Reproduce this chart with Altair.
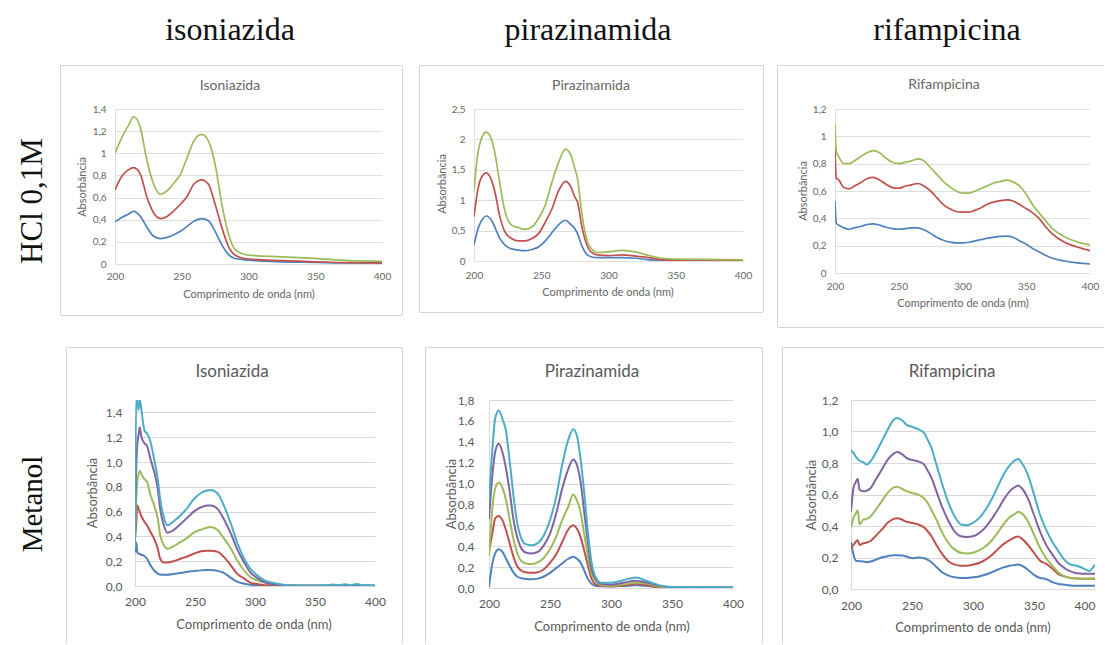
import altair as alt
import pandas as pd

SERIES = ["blue", "red", "green", "purple", "aqua"]
COLORS = ["#4F81BD", "#C0504D", "#9BBB59", "#8064A2", "#4BACC6"]

COL_HEADERS = ["isoniazida", "pirazinamida", "rifampicina"]
ROW_HEADERS = ["HCl 0,1M", "Metanol"]
PANEL_TITLES = ["Isoniazida", "Pirazinamida", "Rifampicina"]
X_TITLE = "Comprimento de onda (nm)"
Y_TITLE = "Absorbância"
X_TICKS = [200, 250, 300, 350, 400]

# ---------------- HCl 0,1M : Isoniazida ----------------
HCL_ISO_WL = [200, 205, 210, 214, 219, 224, 229, 234, 239, 244, 249, 254, 259, 265, 270, 275,
              280, 285, 290, 300, 325, 350, 375, 400]
HCL_ISO_BLUE = [0.38, 0.42, 0.45, 0.475, 0.43, 0.33, 0.25, 0.23, 0.24, 0.265, 0.295, 0.34, 0.385,
                0.41, 0.39, 0.295, 0.175, 0.085, 0.05, 0.035, 0.02, 0.015, 0.01, 0.01]
HCL_ISO_RED = [0.67, 0.79, 0.85, 0.87, 0.81, 0.60, 0.46, 0.41, 0.43, 0.48, 0.54, 0.61, 0.72,
               0.76, 0.72, 0.54, 0.33, 0.16, 0.08, 0.045, 0.03, 0.02, 0.012, 0.01]
HCL_ISO_GREEN = [1.0, 1.14, 1.25, 1.33, 1.23, 0.93, 0.72, 0.63, 0.66, 0.73, 0.81, 0.96, 1.11,
                 1.17, 1.11, 0.90, 0.54, 0.27, 0.13, 0.08, 0.065, 0.05, 0.03, 0.025]

# ---------------- HCl 0,1M : Pirazinamida ----------------
HCL_PZA_WL = [200, 203, 205, 209, 213, 216, 219, 223, 228, 233, 238, 243, 248, 253, 258, 263,
              268, 272, 275, 277, 280, 283, 287, 292, 300, 310, 320, 330, 340, 350, 400]
HCL_PZA_BLUE = [0.26, 0.53, 0.64, 0.74, 0.67, 0.53, 0.38, 0.26, 0.20, 0.18, 0.17, 0.19, 0.23,
                0.33, 0.47, 0.60, 0.67, 0.60, 0.53, 0.45, 0.26, 0.13, 0.07, 0.055, 0.055, 0.055,
                0.045, 0.02, 0.01, 0.01, 0.005]
HCL_PZA_RED = [0.73, 1.19, 1.35, 1.45, 1.33, 1.09, 0.75, 0.48, 0.37, 0.33, 0.33, 0.37, 0.45,
               0.64, 0.86, 1.16, 1.31, 1.22, 1.05, 0.97, 0.59, 0.32, 0.15, 0.10, 0.09, 0.10,
               0.08, 0.055, 0.02, 0.015, 0.01]
HCL_PZA_GREEN = [1.16, 1.79, 1.98, 2.12, 2.0, 1.72, 1.30, 0.82, 0.59, 0.55, 0.52, 0.56, 0.70,
                 0.92, 1.30, 1.63, 1.84, 1.74, 1.52, 1.35, 0.81, 0.43, 0.21, 0.14, 0.15, 0.175,
                 0.15, 0.09, 0.045, 0.03, 0.02]

# ---------------- HCl 0,1M : Rifampicina ----------------
HCL_RIF_WL = [200, 201, 203, 207, 211, 215, 220, 225, 230, 235, 240, 245, 250, 255, 260, 265,
              270, 275, 280, 285, 290, 295, 300, 305, 310, 315, 320, 325, 330, 335, 340, 345,
              350, 355, 360, 365, 370, 380, 390, 400]
HCL_RIF_BLUE = [0.525, 0.365, 0.35, 0.33, 0.32, 0.33, 0.34, 0.355, 0.36, 0.35, 0.335, 0.325,
                0.32, 0.325, 0.33, 0.33, 0.315, 0.29, 0.26, 0.24, 0.227, 0.22, 0.22, 0.225,
                0.235, 0.245, 0.255, 0.263, 0.268, 0.27, 0.26, 0.235, 0.21, 0.18, 0.155, 0.13,
                0.11, 0.088, 0.074, 0.066]
HCL_RIF_RED = [0.915, 0.695, 0.68, 0.625, 0.615, 0.635, 0.66, 0.69, 0.70, 0.68, 0.65, 0.625,
               0.62, 0.635, 0.645, 0.655, 0.635, 0.60, 0.55, 0.50, 0.47, 0.45, 0.445, 0.446,
               0.46, 0.48, 0.505, 0.52, 0.53, 0.535, 0.525, 0.50, 0.47, 0.44, 0.40, 0.34,
               0.29, 0.225, 0.19, 0.163]
HCL_RIF_GREEN = [1.085, 0.89, 0.85, 0.80, 0.80, 0.82, 0.85, 0.88, 0.895, 0.88, 0.84, 0.81,
                 0.80, 0.81, 0.82, 0.835, 0.82, 0.77, 0.72, 0.67, 0.63, 0.60, 0.585, 0.585,
                 0.60, 0.62, 0.64, 0.66, 0.67, 0.68, 0.665, 0.635, 0.575, 0.50, 0.44, 0.385,
                 0.33, 0.265, 0.228, 0.205]

# ---------------- Metanol : Isoniazida ----------------
MEOH_ISO_WL = [200, 201, 202, 203, 204, 205, 206, 208, 210, 213, 216, 219, 221, 224, 227, 232,
               238, 244, 249, 255, 260, 263, 269, 274, 280, 285, 291, 296, 302, 308, 319, 330,
               350, 360, 365, 370, 375, 380, 385, 390, 400]
MEOH_ISO_BLUE = [0.27, 0.35, 0.27, 0.26, 0.26, 0.25, 0.25, 0.24, 0.22, 0.165, 0.125, 0.10, 0.092,
                 0.09, 0.09, 0.097, 0.105, 0.115, 0.12, 0.126, 0.13, 0.13, 0.122, 0.105, 0.065,
                 0.035, 0.018, 0.01, 0.006, 0.004, 0.003, 0.002, 0.002, 0.002, 0.002, 0.002,
                 0.002, 0.002, 0.002, 0.002, 0.002]
MEOH_ISO_RED = [0.38, 0.5, 0.65, 0.62, 0.6, 0.57, 0.55, 0.515, 0.49, 0.435, 0.38, 0.30, 0.22,
                0.19, 0.19, 0.2, 0.22, 0.24, 0.26, 0.28, 0.285, 0.285, 0.275, 0.235, 0.165, 0.10,
                0.06, 0.027, 0.016, 0.005, 0.003, 0.002, 0.002, 0.002, 0.002, 0.002, 0.002,
                0.002, 0.002, 0.002, 0.002]
MEOH_ISO_GREEN = [0.4, 0.7, 0.85, 0.9, 0.93, 0.91, 0.89, 0.86, 0.84, 0.73, 0.65, 0.54, 0.41,
                  0.33, 0.30, 0.32, 0.355, 0.39, 0.43, 0.455, 0.47, 0.475, 0.45, 0.385, 0.30,
                  0.21, 0.125, 0.072, 0.045, 0.027, 0.01, 0.004, 0.003, 0.003, 0.003, 0.003,
                  0.003, 0.003, 0.003, 0.003, 0.003]
MEOH_ISO_PURPLE = [0.55, 0.95, 1.15, 1.22, 1.28, 1.22, 1.185, 1.15, 1.13, 1.02, 0.92, 0.78, 0.62,
                   0.49, 0.43, 0.45, 0.50, 0.555, 0.60, 0.635, 0.65, 0.65, 0.62, 0.54, 0.42,
                   0.30, 0.19, 0.11, 0.064, 0.03, 0.01, 0.005, 0.003, 0.003, 0.003, 0.003,
                   0.003, 0.003, 0.003, 0.003, 0.003]
MEOH_ISO_AQUA = [0.3, 1.5, 1.5, 1.42, 1.5, 1.45, 1.37, 1.25, 1.23, 1.16, 1.02, 0.86, 0.70, 0.555,
                 0.49, 0.52, 0.57, 0.635, 0.70, 0.75, 0.77, 0.775, 0.745, 0.65, 0.50, 0.355,
                 0.22, 0.14, 0.086, 0.045, 0.019, 0.005, 0.003, 0.006, 0.012, 0.005, 0.014,
                 0.007, 0.016, 0.006, 0.005]

# ---------------- Metanol : Pirazinamida ----------------
MEOH_PZA_WL = [200, 203, 205, 208, 211, 214, 217, 220, 223, 226, 230, 235, 240, 245, 250, 255,
               260, 265, 269, 272, 275, 278, 281, 284, 288, 292, 300, 310, 320, 330, 340, 350, 400]
MEOH_PZA_BLUE = [0.01, 0.25, 0.33, 0.37, 0.345, 0.28, 0.21, 0.15, 0.11, 0.095, 0.087, 0.083,
                 0.09, 0.11, 0.145, 0.19, 0.235, 0.28, 0.30, 0.28, 0.245, 0.17, 0.09, 0.04, 0.02,
                 0.016, 0.016, 0.02, 0.026, 0.02, 0.006, 0.003, 0.002]
MEOH_PZA_RED = [0.35, 0.54, 0.665, 0.69, 0.65, 0.55, 0.425, 0.30, 0.21, 0.17, 0.15, 0.145, 0.15,
                0.18, 0.24, 0.32, 0.44, 0.56, 0.60, 0.57, 0.49, 0.36, 0.22, 0.09, 0.032, 0.018,
                0.015, 0.025, 0.04, 0.026, 0.006, 0.003, 0.002]
MEOH_PZA_GREEN = [0.31, 0.79, 0.95, 1.01, 0.96, 0.84, 0.65, 0.47, 0.34, 0.265, 0.235, 0.23,
                  0.245, 0.29, 0.37, 0.49, 0.65, 0.78, 0.895, 0.84, 0.73, 0.52, 0.31, 0.14, 0.06,
                  0.026, 0.02, 0.035, 0.05, 0.04, 0.013, 0.005, 0.003]
MEOH_PZA_PURPLE = [0.66, 1.11, 1.30, 1.38, 1.30, 1.14, 0.92, 0.66, 0.49, 0.39, 0.34, 0.33, 0.345,
                   0.41, 0.52, 0.71, 0.95, 1.14, 1.23, 1.18, 1.02, 0.73, 0.44, 0.185, 0.075, 0.04,
                   0.032, 0.05, 0.07, 0.05, 0.02, 0.008, 0.004]
MEOH_PZA_AQUA = [0.825, 1.37, 1.62, 1.70, 1.62, 1.50, 1.21, 0.89, 0.63, 0.49, 0.42, 0.41, 0.43,
                 0.505, 0.65, 0.87, 1.18, 1.42, 1.52, 1.46, 1.24, 0.92, 0.54, 0.25, 0.09, 0.05,
                 0.05, 0.075, 0.10, 0.065, 0.025, 0.01, 0.005]

# ---------------- Metanol : Rifampicina ----------------
MEOH_RIF_WL = [200, 202, 204, 205.5, 207, 210, 213, 216, 220, 225, 230, 235, 238, 242, 246, 250,
               255, 260, 263, 266, 270, 275, 280, 285, 290, 295, 300, 305, 310, 315, 320, 325,
               330, 335, 337, 340, 345, 350, 355, 360, 365, 370, 375, 380, 385, 390, 395, 400]
MEOH_RIF_BLUE = [0.30, 0.22, 0.18, 0.178, 0.176, 0.175, 0.17, 0.175, 0.185, 0.20, 0.208, 0.215,
                 0.215, 0.212, 0.205, 0.195, 0.2, 0.195, 0.185, 0.17, 0.14, 0.105, 0.085, 0.074,
                 0.07, 0.07, 0.074, 0.08, 0.09, 0.105, 0.122, 0.137, 0.148, 0.153, 0.155, 0.148,
                 0.122, 0.09, 0.07, 0.063, 0.044, 0.032, 0.027, 0.023, 0.021, 0.02, 0.02, 0.02]
MEOH_RIF_RED = [0.26, 0.28, 0.30, 0.31, 0.28, 0.29, 0.295, 0.305, 0.335, 0.375, 0.42, 0.445,
                0.45, 0.44, 0.425, 0.42, 0.41, 0.39, 0.365, 0.335, 0.28, 0.22, 0.175, 0.155,
                0.148, 0.148, 0.155, 0.165, 0.185, 0.213, 0.25, 0.285, 0.31, 0.33, 0.334, 0.32,
                0.28, 0.23, 0.18, 0.16, 0.13, 0.095, 0.08, 0.07, 0.067, 0.065, 0.065, 0.065]
MEOH_RIF_GREEN = [0.39, 0.45, 0.48, 0.50, 0.41, 0.44, 0.445, 0.46, 0.50, 0.555, 0.61, 0.645,
                  0.65, 0.635, 0.62, 0.61, 0.60, 0.575, 0.545, 0.50, 0.44, 0.355, 0.29, 0.25,
                  0.23, 0.225, 0.23, 0.245, 0.27, 0.305, 0.355, 0.41, 0.455, 0.48, 0.49, 0.48,
                  0.43, 0.345, 0.26, 0.195, 0.148, 0.105, 0.08, 0.07, 0.067, 0.065, 0.066, 0.07]
MEOH_RIF_PURPLE = [0.49, 0.64, 0.68, 0.70, 0.63, 0.62, 0.625, 0.64, 0.69, 0.755, 0.82, 0.86,
                   0.87, 0.855, 0.83, 0.82, 0.81, 0.79, 0.75, 0.705, 0.62, 0.515, 0.43, 0.365,
                   0.335, 0.33, 0.335, 0.355, 0.39, 0.44, 0.50, 0.565, 0.62, 0.65, 0.657, 0.64,
                   0.575, 0.47, 0.365, 0.28, 0.22, 0.165, 0.133, 0.112, 0.10, 0.097, 0.097, 0.097]
MEOH_RIF_AQUA = [0.88, 0.865, 0.84, 0.825, 0.815, 0.805, 0.79, 0.81, 0.86, 0.935, 1.01, 1.075,
                 1.085, 1.07, 1.04, 1.03, 1.015, 0.99, 0.945, 0.895, 0.79, 0.66, 0.545, 0.46,
                 0.41, 0.405, 0.42, 0.45, 0.50, 0.565, 0.645, 0.725, 0.785, 0.82, 0.825, 0.80,
                 0.725, 0.60, 0.47, 0.375, 0.30, 0.24, 0.185, 0.155, 0.148, 0.133, 0.115, 0.155]

# Y axis tick values per panel
YT_HCL_ISO = [0, 0.2, 0.4, 0.6, 0.8, 1.0, 1.2, 1.4]
YT_HCL_PZA = [0, 0.5, 1.0, 1.5, 2.0, 2.5]
YT_HCL_RIF = [0, 0.2, 0.4, 0.6, 0.8, 1.0, 1.2]
YT_MEOH_ISO = [0, 0.2, 0.4, 0.6, 0.8, 1.0, 1.2, 1.4]
YT_MEOH_PZA = [0, 0.2, 0.4, 0.6, 0.8, 1.0, 1.2, 1.4, 1.6, 1.8]
YT_MEOH_RIF = [0, 0.2, 0.4, 0.6, 0.8, 1.0, 1.2]

ONE = pd.DataFrame({"k": [0]})
FONT = "Lato"
SERIF = "Liberation Serif"
BORDER = "#D6D6D6"


def table(wl, series):
    rows = []
    for name in SERIES:
        vals = series.get(name)
        if vals is None:
            continue
        for w, v in zip(wl, vals):
            rows.append({"wl": w, "a": v, "s": name})
    return pd.DataFrame(rows)


def text_at(text, x, y, size, color, font=FONT, angle=0, baseline="middle"):
    return alt.Chart(ONE).mark_text(
        text=text, font=font, fontSize=size, color=color, angle=angle,
        align="center", baseline=baseline
    ).encode(x=alt.value(x), y=alt.value(y))


def rule_at(x1, y1, x2, y2):
    return alt.Chart(ONE).mark_rule(color=BORDER, strokeWidth=1).encode(
        x=alt.value(x1), y=alt.value(y1), x2=alt.value(x2), y2=alt.value(y2))


def panel(df, g):
    ox, oy, w, h = g["plot"]
    X = lambda v: v - ox
    Y = lambda v: v - oy
    row1 = g["row"] == 1
    txt = "#666666" if row1 else "#595959"
    grid = "#DEDEDE" if row1 else "#D9D9D9"
    tick_fs = 10 if row1 else 12
    axt_fs = 11 if row1 else 13
    title_fs = 14 if row1 else 17
    lw = 1.7 if row1 else 2.0

    layers = []
    cx1, cy1, cx2, cy2 = g["cell"]
    layers.append(alt.Chart(ONE).mark_rect(opacity=0).encode(
        x=alt.value(X(cx1)), x2=alt.value(X(cx2)), y=alt.value(Y(cy1)), y2=alt.value(Y(cy2))))

    bx1, by1, bx2, by2 = g["box"]
    right = bx2 if bx2 is not None else 1104
    bottom = by2 if by2 is not None else 644
    layers.append(rule_at(X(bx1 + 0.5), Y(by1 + 0.5), X(right), Y(by1 + 0.5)))
    layers.append(rule_at(X(bx1 + 0.5), Y(by1 + 0.5), X(bx1 + 0.5), Y(bottom)))
    if by2 is not None:
        layers.append(rule_at(X(bx1 + 0.5), Y(by2 + 0.5), X(right), Y(by2 + 0.5)))
    if bx2 is not None:
        layers.append(rule_at(X(bx2 + 0.5), Y(by1 + 0.5), X(bx2 + 0.5), Y(bottom)))

    if row1:
        lx = "replace(format(datum.value, '~g'), '.', ',')"
    else:
        lx = "replace(format(datum.value, '.1f'), '.', ',')"

    label_align = "center"
    if g.get("flush_last"):
        label_align = {"condition": {"test": "datum.value == 400", "value": "right"}, "value": "center"}

    xaxis = alt.Axis(values=X_TICKS, title=None, grid=False, ticks=False, tickSize=0,
                     domain=True, domainColor=grid, labelFont=FONT, labelFontSize=tick_fs,
                     labelColor=txt, labelPadding=g["xpad"], labelFlush=False,
                     labelAlign=label_align, format="d")
    yaxis = alt.Axis(values=g["yticks"], title=None, grid=True, gridColor=grid, ticks=False,
                     tickSize=0, domain=True, domainColor=grid, labelFont=FONT,
                     labelFontSize=tick_fs, labelColor=txt, labelPadding=g["ypad"],
                     labelExpr=lx)

    lines = alt.Chart(df).mark_line(interpolate="monotone", strokeWidth=lw, clip=True).encode(
        x=alt.X("wl:Q", scale=alt.Scale(domain=[200, 400], nice=False, zero=False), axis=xaxis),
        y=alt.Y("a:Q", scale=alt.Scale(domain=[0, g["ymax"]], nice=False), axis=yaxis),
        color=alt.Color("s:N", scale=alt.Scale(domain=SERIES, range=COLORS), legend=None),
        order=alt.Order("wl:Q"),
    )
    layers.append(lines)

    tx, ty = g["title_pos"]
    layers.append(text_at(g["title"], X(tx), Y(ty), title_fs, txt))
    yx, yy = g["ytitle_pos"]
    layers.append(text_at(Y_TITLE, X(yx), Y(yy), axt_fs, txt, angle=270))
    xx, xy = g["xtitle_pos"]
    layers.append(text_at(X_TITLE, X(xx), Y(xy), axt_fs, txt))

    if g.get("header"):
        hx = g["header_x"]
        layers.append(text_at(g["header"], X(hx), Y(40), 32, "#111111", font=SERIF,
                              baseline="alphabetic"))
    if g.get("rowlabel"):
        ry = g["rowlabel_y"]
        layers.append(text_at(g["rowlabel"], X(42), Y(ry), g["rowlabel_fs"], "#111111",
                              font=SERIF, angle=270, baseline="alphabetic"))

    return alt.layer(*layers).properties(width=w, height=h)


P = [
    dict(row=1, plot=(115, 109, 267, 155), ymax=1.4, yticks=YT_HCL_ISO, box=(60, 65, 402, 315),
         cell=(1, 0, 411, 337), title=PANEL_TITLES[0], title_pos=(230, 86), ytitle_pos=(83, 187),
         xtitle_pos=(249, 295), xpad=7, ypad=9, header=COL_HEADERS[0], header_x=230,
         rowlabel=ROW_HEADERS[0], rowlabel_y=201, rowlabel_fs=31,
         data=table(HCL_ISO_WL, {"blue": HCL_ISO_BLUE, "red": HCL_ISO_RED, "green": HCL_ISO_GREEN})),
    dict(row=1, plot=(474, 109, 269, 152), ymax=2.5, yticks=YT_HCL_PZA, box=(419, 65, 763, 312),
         cell=(411, 0, 770, 337), title=PANEL_TITLES[1], title_pos=(591, 86), ytitle_pos=(443, 184),
         xtitle_pos=(608, 293), xpad=9, ypad=9, header=COL_HEADERS[1], header_x=588,
         data=table(HCL_PZA_WL, {"blue": HCL_PZA_BLUE, "red": HCL_PZA_RED, "green": HCL_PZA_GREEN})),
    dict(row=1, plot=(835, 109, 255, 164), ymax=1.2, yticks=YT_HCL_RIF, box=(777, 65, None, 327),
         cell=(770, 0, 1105, 337), title=PANEL_TITLES[2], title_pos=(944, 85), ytitle_pos=(804, 191),
         xtitle_pos=(963, 304), xpad=8, ypad=9, header=COL_HEADERS[2], header_x=947,
         data=table(HCL_RIF_WL, {"blue": HCL_RIF_BLUE, "red": HCL_RIF_RED, "green": HCL_RIF_GREEN})),
    dict(row=2, plot=(135, 400, 240, 186), ymax=1.5, yticks=YT_MEOH_ISO, box=(66, 347, 402, None),
         cell=(1, 337, 413, 645), title=PANEL_TITLES[0], title_pos=(232, 372), ytitle_pos=(93, 493),
         xtitle_pos=(254, 625), xpad=10, ypad=13, rowlabel=ROW_HEADERS[1], rowlabel_y=504,
         rowlabel_fs=29,
         data=table(MEOH_ISO_WL, {"blue": MEOH_ISO_BLUE, "red": MEOH_ISO_RED, "green": MEOH_ISO_GREEN,
                                  "purple": MEOH_ISO_PURPLE, "aqua": MEOH_ISO_AQUA})),
    dict(row=2, plot=(489, 400, 244, 188), ymax=1.8, yticks=YT_MEOH_PZA, box=(425, 347, 762, None),
         cell=(413, 337, 771, 645), title=PANEL_TITLES[1], title_pos=(592, 372), ytitle_pos=(452, 494),
         xtitle_pos=(612, 627), xpad=10, ypad=15,
         data=table(MEOH_PZA_WL, {"blue": MEOH_PZA_BLUE, "red": MEOH_PZA_RED, "green": MEOH_PZA_GREEN,
                                  "purple": MEOH_PZA_PURPLE, "aqua": MEOH_PZA_AQUA})),
    dict(row=2, plot=(851, 400, 244, 189), ymax=1.2, yticks=YT_MEOH_RIF, box=(782, 347, None, None),
         cell=(771, 337, 1105, 645), title=PANEL_TITLES[2], title_pos=(952, 372), ytitle_pos=(812, 495),
         xtitle_pos=(973, 628), xpad=11, ypad=13, flush_last=True,
         data=table(MEOH_RIF_WL, {"blue": MEOH_RIF_BLUE, "red": MEOH_RIF_RED, "green": MEOH_RIF_GREEN,
                                  "purple": MEOH_RIF_PURPLE, "aqua": MEOH_RIF_AQUA})),
]

panels = [panel(p["data"], p) for p in P]


def spacer():
    # 1px invisible first column so that the panels of both rows share the same left origin
    return alt.Chart(ONE).mark_rect(opacity=0).encode(
        x=alt.value(0), x2=alt.value(1), y=alt.value(0), y2=alt.value(1)
    ).properties(width=1, height=1)


row_a = alt.hconcat(spacer(), *panels[:3], spacing=0).resolve_scale(
    x="independent", y="independent", color="independent")
row_b = alt.hconcat(spacer(), *panels[3:], spacing=0).resolve_scale(
    x="independent", y="independent", color="independent")

chart = (
    alt.vconcat(row_a, row_b, spacing=0, padding=0, background="white")
    .resolve_scale(x="independent", y="independent", color="independent")
    .configure_view(strokeWidth=0)
)

chart.save("out.html", embed_options={"renderer": "svg", "actions": False})
